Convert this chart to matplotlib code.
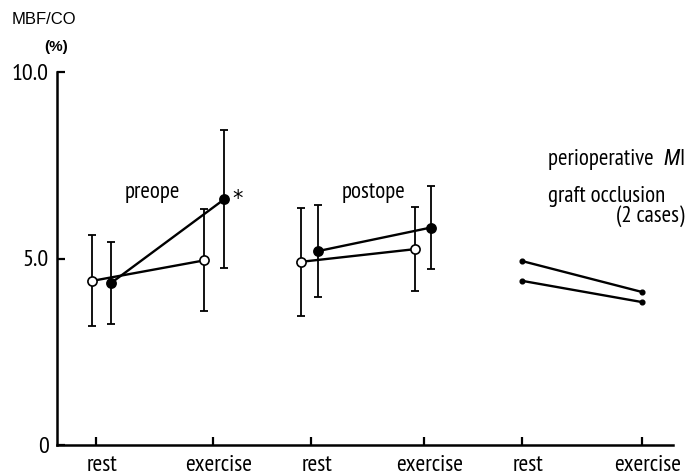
import matplotlib
matplotlib.use("Agg")
import matplotlib.pyplot as plt
from matplotlib.transforms import ScaledTranslation

plt.rcParams['font.family'] = ['PT Sans Narrow', 'DejaVu Sans']

# ---- data ----
tick_labels = ["rest", "exercise", "rest", "exercise", "rest", "exercise"]

# preope group (open / filled circles)
pre_open_mean = [4.40, 4.95]
pre_open_sd = [1.22, 1.37]
pre_filled_mean = [4.34, 6.59]
pre_filled_sd = [1.10, 1.85]

# postope group
post_open_mean = [4.91, 5.25]
post_open_sd = [1.45, 1.12]
post_filled_mean = [5.20, 5.83]
post_filled_sd = [1.23, 1.12]

# perioperative MI, graft occlusion (2 cases): rest, exercise
mi_case1 = [4.93, 4.10]
mi_case2 = [4.40, 3.83]

# ---- layout (x positions, in tick units) ----
tick_x = [0.0, 1.0, 1.838, 2.803, 3.641, 4.667]
pre_open_x = [-0.032, 0.926]
pre_filled_x = [0.128, 1.097]
post_open_x = [1.750, 2.724]
post_filled_x = [1.900, 2.863]
mi_x = [3.644, 4.670]

fig = plt.figure(figsize=(6.96, 4.76), dpi=100)
ax = fig.add_axes([57 / 696, 31 / 476, 616 / 696, 373 / 476])
ax.set_xlim(-0.333, 4.932)
ax.set_ylim(0, 10)

lw = 1.7
elw = 1.3
cap = 3.2
ms = 6.6


def draw(xs, means, sds, filled, z):
    ax.errorbar(xs, means, yerr=sds, fmt='none', ecolor='black',
                elinewidth=elw, capsize=cap, capthick=elw, zorder=z)
    ax.plot(xs, means, color='black', lw=lw, zorder=z + 1)
    ax.plot(xs, means, 'o', ms=ms, mec='black', mew=1.2,
            mfc='black' if filled else 'white', zorder=z + 2, ls='none')


draw(pre_open_x, pre_open_mean, pre_open_sd, False, 2)
draw(pre_filled_x, pre_filled_mean, pre_filled_sd, True, 5)
draw(post_open_x, post_open_mean, post_open_sd, False, 2)
draw(post_filled_x, post_filled_mean, post_filled_sd, True, 5)

for case in (mi_case1, mi_case2):
    ax.plot(mi_x, case, color='black', lw=lw, marker='o', ms=3.4, zorder=3)

# spines / ticks
for s in ("top", "right"):
    ax.spines[s].set_visible(False)
for s in ("left", "bottom"):
    ax.spines[s].set_linewidth(1.8)
ax.set_xticks(tick_x)
ax.set_xticklabels(tick_labels, fontsize=17)
ax.set_yticks([0, 5, 10])
ax.set_yticklabels(["0", "5.0", "10.0"], fontsize=17.5)
ax.tick_params(axis='both', direction='in', length=6, width=1.6)
ax.tick_params(axis='x', pad=7)
ax.tick_params(axis='y', pad=6)
shift = ScaledTranslation(6 / 100, 0, fig.dpi_scale_trans)
for lab in ax.get_xticklabels():
    lab.set_transform(lab.get_transform() + shift)

# texts
tfs = 16.5
ax.text(0.248, 6.62, "preope", fontsize=tfs, ha='left', va='baseline')
ax.text(1.214, 6.43, "*", fontsize=15, ha='center', va='baseline',
        family=['DejaVu Sans'])
ax.text(2.10, 6.62, "postope", fontsize=tfs, ha='left', va='baseline')
t1 = ax.text(3.863, 7.51, "perioperative  ", fontsize=tfs, ha='left', va='baseline')
t2 = ax.annotate("M", xy=(1, 0), xycoords=t1, fontsize=tfs - 0.5, style='italic',
                 ha='left', va='bottom', family=['Roboto Condensed', 'DejaVu Sans'])
ax.annotate("I", xy=(1, 0), xycoords=t2, fontsize=tfs, ha='left', va='bottom')
ax.text(3.863, 6.51, "graft occlusion", fontsize=tfs, ha='left', va='baseline')
ax.text(5.03, 5.98, "(2 cases)", fontsize=tfs, ha='right', va='baseline',
        clip_on=False)

fig.text(12 / 696, 1 - 19 / 476, "MBF/CO", fontsize=12, ha='left', va='center',
         family=['Liberation Sans', 'DejaVu Sans'])
fig.text(56 / 696, 1 - 47 / 476, "(%)", fontsize=11, ha='center', va='center',
         fontweight='bold', family=['Liberation Sans', 'DejaVu Sans'])

fig.savefig("out.png", dpi=100)
